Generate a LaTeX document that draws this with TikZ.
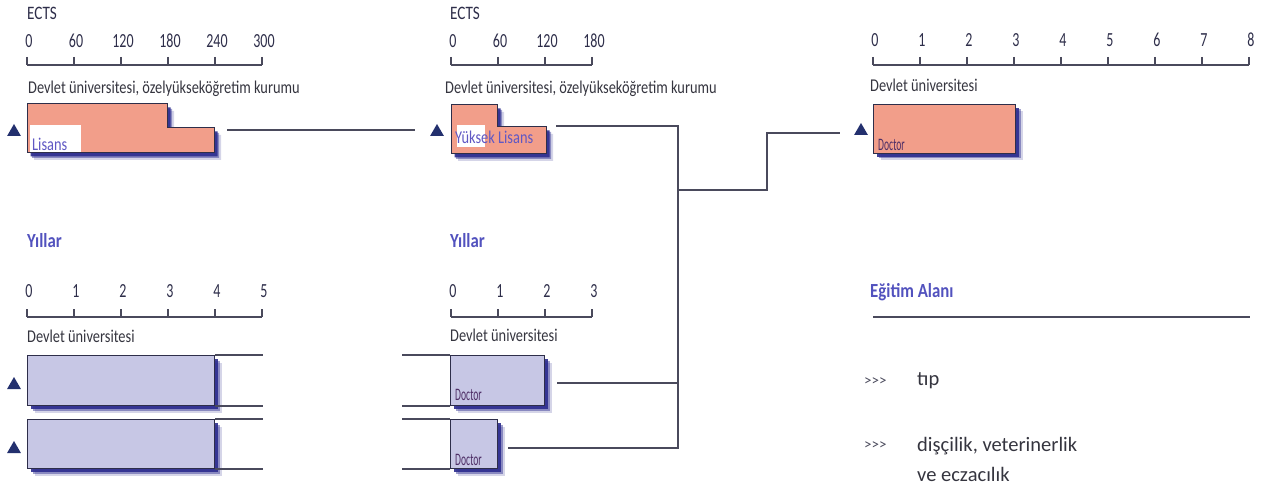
\documentclass[tikz,border=0pt]{standalone}
\usepackage{fontspec}
\setmainfont{Carlito}
\newfontfamily\narrowsans[FakeStretch=0.8]{Carlito}
\newfontfamily\headsans[FakeStretch=0.84]{Carlito}
\newfontfamily\tallsans[FakeStretch=0.7]{Carlito}
\newfontfamily\slimsans[FakeStretch=0.55]{Carlito}
\usepackage{tikz}
\usetikzlibrary{shapes.geometric, positioning, calc, shadows}
\definecolor{ectsnavy}{HTML}{2E2E4A}
\definecolor{rulegray}{HTML}{4A4A5C}
\definecolor{capgray}{HTML}{35353F}
\definecolor{headblue}{HTML}{5252BE}
\definecolor{tagblue}{HTML}{6058C4}
\definecolor{docplum}{HTML}{4E2E66}
\definecolor{salmon}{HTML}{F29E8A}
\definecolor{lavender}{HTML}{C7C7E5}
\definecolor{shadownavy}{HTML}{2C2C8E}
\definecolor{markernavy}{HTML}{23306E}

\begin{document}
\begin{tikzpicture}[
    x=1pt, y=-1pt,
    scaleline/.style={draw=rulegray, line width=1.3pt},
    link/.style={draw=rulegray, line width=1.3pt},
    thinrule/.style={draw=rulegray, line width=1.1pt},
    ticklbl/.style={font=\tallsans\fontsize{20}{22}\selectfont, text=ectsnavy, inner sep=0pt, anchor=base},
    unitlbl/.style={font=\narrowsans\fontsize{19}{20}\selectfont, text=ectsnavy, inner sep=0pt, anchor=base west},
    caption/.style={font=\narrowsans\fontsize{18}{20}\selectfont, text=capgray, inner sep=0pt, anchor=base west},
    heading/.style={font=\headsans\bfseries\fontsize{20}{22}\selectfont, text=headblue, inner sep=0pt, anchor=base west},
    taglbl/.style={font=\narrowsans\fontsize{18}{20}\selectfont, text=tagblue, inner sep=0pt, anchor=base west},
    doclbl/.style={font=\slimsans\fontsize{17.5}{18}\selectfont, text=docplum, inner sep=0pt, anchor=base west},
    itemlbl/.style={font=\fontsize{20.5}{30}\selectfont, text=capgray, inner sep=0pt, anchor=base west, align=left},
    bulletlbl/.style={font=\fontsize{15}{16}\selectfont, text=rulegray, inner sep=0pt, anchor=base west},
    tagbox/.style={fill=white, inner sep=0pt, anchor=north west},
    boxshadow/.style={drop shadow={shadow xshift=7pt, shadow yshift=-7pt, fill=shadownavy, opacity=.2},
                      drop shadow={shadow xshift=5pt, shadow yshift=-5pt, fill=shadownavy, opacity=.45},
                      drop shadow={shadow xshift=3.5pt, shadow yshift=-3.5pt, fill=shadownavy, opacity=.9}},
    boxedge/.style={draw=ectsnavy, line width=1pt},
    salbox/.style={rectangle, boxedge, fill=salmon, boxshadow, inner sep=0pt, anchor=north west},
    lavbox/.style={rectangle, boxedge, fill=lavender, boxshadow, inner sep=0pt, anchor=north west},
    marker/.style={regular polygon, regular polygon sides=3, fill=markernavy, inner sep=0pt, minimum size=16pt}
]
\useasboundingbox (0,0) rectangle (1280,500);

% ECTS scales
\node[unitlbl] (ects-lis) at (27,20) {ECTS};
\draw[scaleline] (27,65) -- (262,65);
\foreach \v [count=\i from 0] in {0,60,120,180,240,300} {
  \draw[scaleline] (27+47*\i,57) -- (27+47*\i,65);
  \node[ticklbl] at (29+47*\i,48) {\v};
}
\node[unitlbl] (ects-yl) at (450,20) {ECTS};
\draw[scaleline] (451,65) -- (592,65);
\foreach \v [count=\i from 0] in {0,60,120,180} {
  \draw[scaleline] (451+47*\i,57) -- (451+47*\i,65);
  \node[ticklbl] at (453+47*\i,48) {\v};
}
\draw[scaleline] (873,65) -- (1249,65);
\foreach \v in {0,...,8} {
  \draw[scaleline] (873+47*\v,57) -- (873+47*\v,65);
  \node[ticklbl] at (875+47*\v,47) {\v};
}

% Years scales
\node[heading] (yil-lis) at (27,247) {Yıllar};
\draw[scaleline] (27,317) -- (262,317);
\foreach \v in {0,...,5} {
  \draw[scaleline] (27+47*\v,309) -- (27+47*\v,317);
  \node[ticklbl] at (29+47*\v,297) {\v};
}
\node[heading] (yil-yl) at (450,247) {Yıllar};
\draw[scaleline] (451,317) -- (592,317);
\foreach \v in {0,...,3} {
  \draw[scaleline] (451+47*\v,309) -- (451+47*\v,317);
  \node[ticklbl] at (453+47*\v,297) {\v};
}

% Captions
\node[caption] (cap-lis) at (28,94) {Devlet üniversitesi, özelyükseköğretim kurumu};
\node[caption] (cap-yl) at (445,94) {Devlet üniversitesi, özelyükseköğretim kurumu};
\node[caption] (cap-phd) at (870,92) {Devlet üniversitesi};
\node[caption] (cap-bl) at (27,342) {Devlet üniversitesi};
\node[caption] (cap-mb) at (450,341) {Devlet üniversitesi};

% Lisans
\draw[boxedge, fill=salmon, boxshadow] (27,104) -- (167,104) -- (167,128) -- (214,128) -- (214,153) -- (27,153) -- cycle;
\node[tagbox, minimum width=51pt, minimum height=27pt] (lis-tag) at (30,125) {};
\node[taglbl] (lis-txt) at (32,150) {Lisans};
\node[marker] (m-lis) at (14,132) {};

% Yuksek Lisans
\draw[boxedge, fill=salmon, boxshadow] (451,105) -- (497,105) -- (497,127) -- (546,127) -- (546,154) -- (451,154) -- cycle;
\node[tagbox, minimum width=28pt, minimum height=22pt] (yl-tag) at (457,125) {};
\node[taglbl] (yl-txt) at (455,143) {Yüksek Lisans};
\node[marker] (m-yl) at (437,132) {};

% Doctor (top right)
\node[salbox, minimum width=142pt, minimum height=49pt] (phd) at (873,104) {};
\node[doclbl] (phd-txt) at (878,150) {Doctor};
\node[marker] (m-phd) at (861,131) {};

% Bottom left blocks
\node[lavbox, minimum width=187pt, minimum height=50pt] (bl-one) at (27,355) {};
\node[lavbox, minimum width=187pt, minimum height=49pt] (bl-two) at (27,419) {};
\draw[thinrule] (bl-one.north east) -- ++(48,0);
\draw[thinrule] (bl-one.south east) -- ++(48,0);
\draw[thinrule] (bl-two.north east) -- ++(48,0);
\draw[thinrule] (bl-two.south east) -- ++(48,0);
\node[marker] (m-bl1) at (14,385) {};
\node[marker] (m-bl2) at (14,449) {};

% Bottom middle blocks
\node[lavbox, minimum width=94pt, minimum height=50pt] (mb-one) at (450,355) {};
\node[lavbox, minimum width=47pt, minimum height=49pt] (mb-two) at (450,419) {};
\draw[thinrule] (mb-one.north west) -- ++(-48,0);
\draw[thinrule] (mb-one.south west) -- ++(-48,0);
\draw[thinrule] (mb-two.north west) -- ++(-48,0);
\draw[thinrule] (mb-two.south west) -- ++(-48,0);
\node[doclbl] (mb1-txt) at (455,400) {Doctor};
\node[doclbl] (mb2-txt) at (455,465) {Doctor};

% Connectors
\coordinate (lis-out) at (227,130);
\coordinate (yl-in) at (415,130);
\coordinate (yl-out) at (556,126);
\coordinate (bus-top) at (678,126);
\coordinate (bus-bot) at (678,448);
\coordinate (mb1-out) at (557,383);
\coordinate (mb2-out) at (508,448);
\coordinate (bus-mid) at (678,190);
\coordinate (riser) at (767,190);
\coordinate (phd-in) at (840,133);
\draw[link] (lis-out) -- (yl-in);
\draw[link] (yl-out) -- (bus-top) -- (bus-bot) -- (mb2-out);
\draw[link] (mb1-out) -- (mb1-out -| bus-top);
\draw[link] (bus-mid) -- (riser) |- (phd-in);

% Field of study
\node[heading] (field) at (870,297) {Eğitim Alanı};
\draw[scaleline] (873,317) -- (1250,317);
\node[bulletlbl] (bul-one) at (864,385) {>\kern0pt>\kern0pt>};
\node[itemlbl] (itm-one) at (917,385) {tıp};
\node[bulletlbl] (bul-two) at (864,449) {>\kern0pt>\kern0pt>};
\node[itemlbl, anchor=north west] (itm-two) at (917,437) {dişçilik, veterinerlik\\ve eczacılık};
\end{tikzpicture}
\end{document}
